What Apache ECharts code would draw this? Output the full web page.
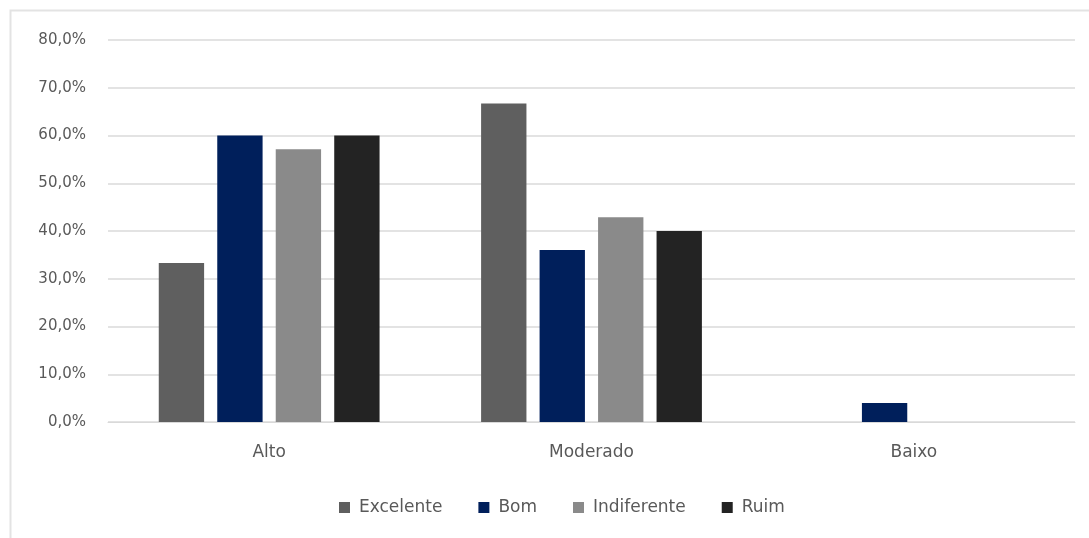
<!DOCTYPE html>
<html>
<head>
<meta charset="utf-8">
<script src="https://cdn.jsdelivr.net/npm/echarts@6/dist/echarts.min.js"></script>
<style>
  html, body { margin: 0; padding: 0; background: #ffffff; }
  #chart { width: 1089px; height: 538px; }
</style>
</head>
<body>
<div id="chart"></div>
<script>
// Níveis avaliados e percentuais por avaliação
const categories = ['Alto', 'Moderado', 'Baixo'];
const seriesNames = ['Excelente', 'Bom', 'Indiferente', 'Ruim'];
const excelente = [33.3, 66.7, 0];
const bom = [60.0, 36.0, 4.0];
const indiferente = [57.1, 42.9, 0];
const ruim = [60.0, 40.0, 0];
const colors = ['#5f5f5f', '#001f5b', '#8a8a8a', '#232323'];

const values = [excelente, bom, indiferente, ruim];
const textColor = '#595959';
const fontFamily = '"DejaVu Sans", "Open Sans", sans-serif';

const chart = echarts.init(document.getElementById('chart'), null, { renderer: 'canvas' });

chart.setOption({
  animation: false,
  backgroundColor: '#ffffff',
  color: colors,
  graphic: [{
    type: 'rect',
    shape: { x: 10.5, y: 10.5, width: 1100, height: 560 },
    style: { fill: 'none', stroke: '#e3e3e3', lineWidth: 2 },
    silent: true,
    z: -1
  }],
  grid: { left: 108, right: 14, top: 40, bottom: 116, containLabel: false },
  legend: {
    data: seriesNames,
    bottom: 17,
    left: 334,
    itemWidth: 11,
    itemHeight: 11,
    itemGap: 36,
    icon: 'rect',
    textStyle: { color: textColor, fontSize: 17, fontFamily: fontFamily, padding: [0, 0, 0, 4] }
  },
  xAxis: {
    type: 'category',
    data: categories,
    axisLine: { show: true, lineStyle: { color: '#d9d9d9', width: 1 } },
    axisTick: { show: false },
    axisLabel: { color: textColor, fontSize: 17, fontFamily: fontFamily, margin: 22 }
  },
  yAxis: {
    type: 'value',
    min: 0,
    max: 80,
    interval: 10,
    axisLine: { show: false },
    axisTick: { show: false },
    splitLine: { lineStyle: { color: '#e3e3e3', width: 2 } },
    axisLabel: {
      color: textColor,
      fontSize: 15,
      fontFamily: fontFamily,
      margin: 22,
      formatter: v => v.toFixed(1).replace('.', ',') + '%'
    }
  },
  series: seriesNames.map((name, i) => ({
    name: name,
    type: 'bar',
    data: values[i],
    barGap: '29%',
    barCategoryGap: '31.5%',
    itemStyle: { color: colors[i] }
  }))
});
</script>
</body>
</html>
